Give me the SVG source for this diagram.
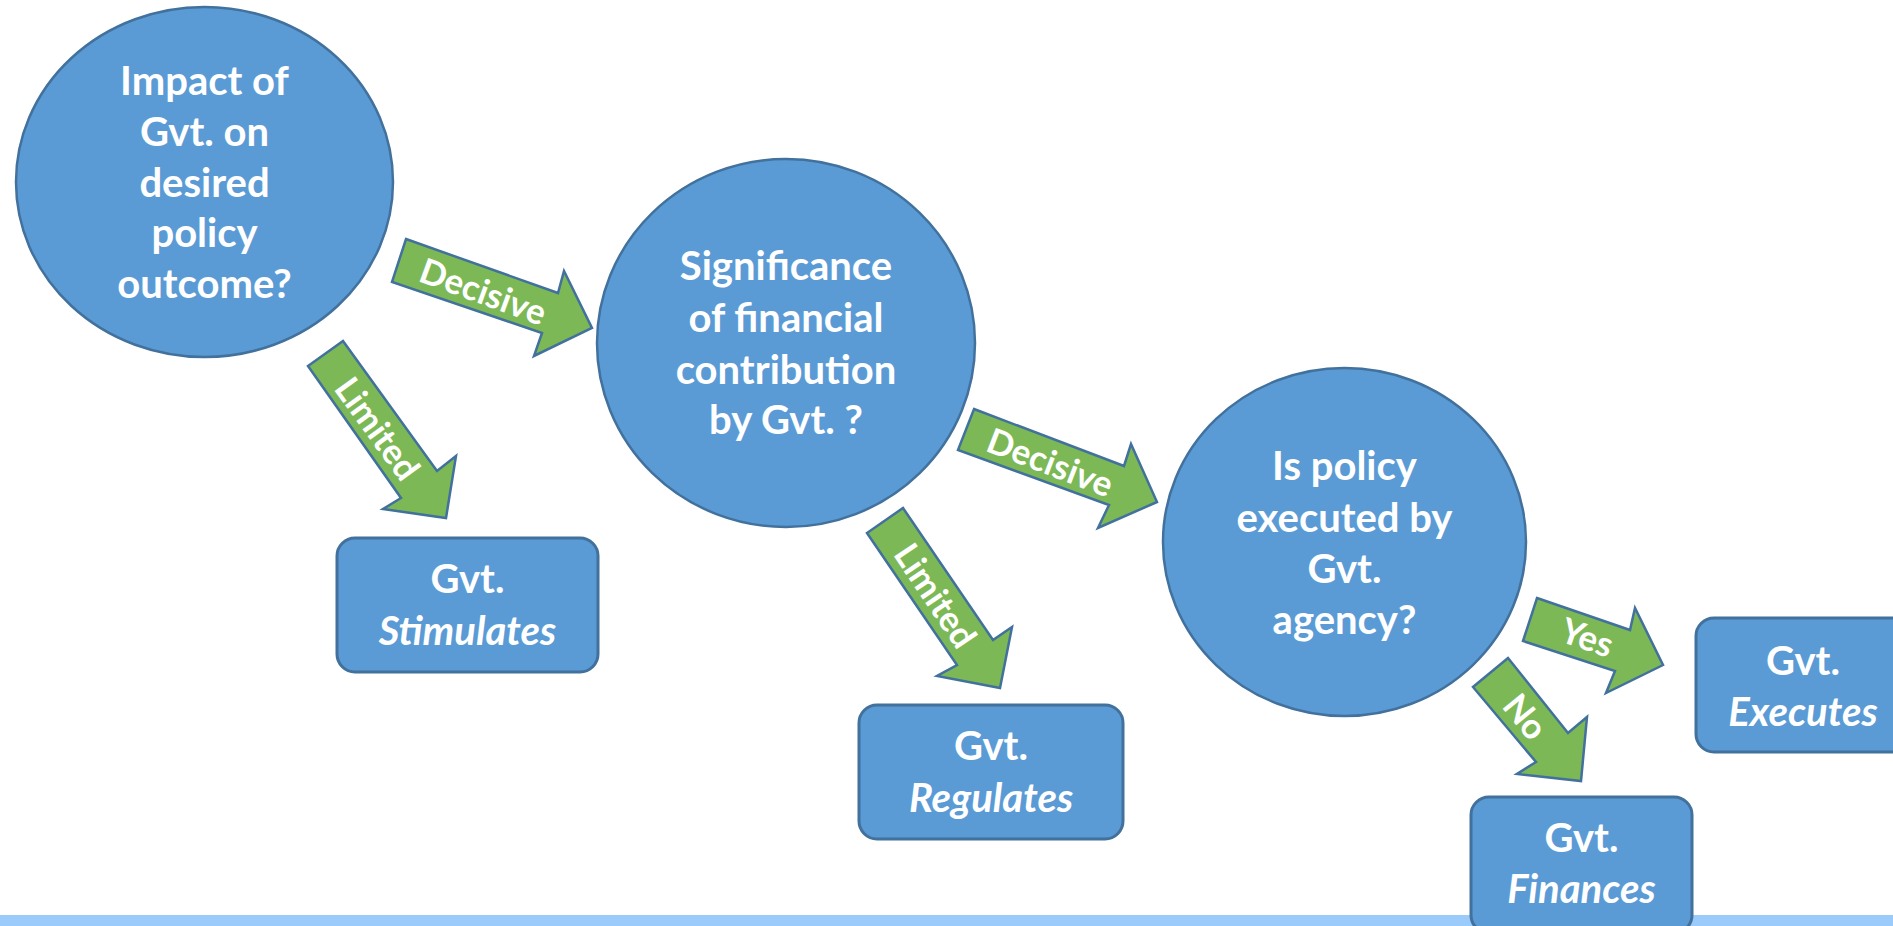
<svg xmlns="http://www.w3.org/2000/svg" width="1893" height="926" viewBox="0 0 1893 926">
<style>
.node{fill:#5B9BD5;stroke:#41719C;stroke-width:2.5}
.box{fill:#5B9BD5;stroke:#41719C;stroke-width:3}
.arr{fill:#7DB856;stroke:#41719C;stroke-width:2.5;stroke-linejoin:miter}
.t{font-family:Lato,"Liberation Sans",sans-serif;font-weight:bold;font-size:40px;fill:#FFFFFF;text-anchor:middle}
.i{font-style:italic}
.lbl{font-family:Lato,"Liberation Sans",sans-serif;font-weight:bold;font-size:35px;fill:#FFFFFF;text-anchor:middle}
</style>
<rect x="0" y="0" width="1893" height="926" fill="#FFFFFF"/>
<rect id="band" x="0" y="915" width="1893" height="11" fill="#9BCBFA"/>

<g id="connectors">
  <g id="c-decisive1">
    <polygon class="arr" points="406,239 558,293 564,271 592,328 534,356 542,333 392,282"/>
    <text class="lbl" transform="translate(483,292) rotate(20)" y="12">Decisive</text>
  </g>
  <g id="c-limited1">
    <polygon class="arr" points="343,341 437,471 456,456 446,518 383,509 401,498 308,366"/>
    <text class="lbl" transform="translate(377,429) rotate(54)" y="12">Limited</text>
  </g>
  <g id="c-decisive2">
    <polygon class="arr" points="974,409 1124,466 1131,444 1157,502 1098,528 1109,505 958,450"/>
    <text class="lbl" transform="translate(1050,463) rotate(21)" y="12">Decisive</text>
  </g>
  <g id="c-limited2">
    <polygon class="arr" points="903,508 993,640 1012,627 1000,688 937,676 957,665 867,533"/>
    <text class="lbl" transform="translate(935,596) rotate(56)" y="12">Limited</text>
  </g>
  <g id="c-yes">
    <polygon class="arr" points="1537,598 1630,630 1635,608 1663,665 1606,693 1615,671 1523,641"/>
    <text class="lbl" transform="translate(1587,638) rotate(19)" y="12">Yes</text>
  </g>
  <g id="c-no">
    <polygon class="arr" points="1508,658 1568,733 1587,717 1581,781 1517,774 1536,762 1473,687"/>
    <text class="lbl" transform="translate(1525,717) rotate(51)" y="12">No</text>
  </g>
</g>

<g id="n-impact">
  <ellipse class="node" cx="204.5" cy="182" rx="188.5" ry="175"/>
  <text class="t" x="204.5" y="95">Impact of</text>
  <text class="t" x="204.5" y="146">Gvt. on</text>
  <text class="t" x="204.5" y="197">desired</text>
  <text class="t" x="204.5" y="247">policy</text>
  <text class="t" x="204.5" y="298">outcome?</text>
</g>

<g id="n-significance">
  <ellipse class="node" cx="786" cy="343" rx="189" ry="184"/>
  <text class="t" x="786" y="280">Significance</text>
  <text class="t" x="786" y="332">of financial</text>
  <text class="t" x="786" y="384">contribution</text>
  <text class="t" x="786" y="434">by Gvt. ?</text>
</g>

<g id="n-executed">
  <ellipse class="node" cx="1344.5" cy="542" rx="181.5" ry="174"/>
  <text class="t" x="1344.5" y="480">Is policy</text>
  <text class="t" x="1344.5" y="532">executed by</text>
  <text class="t" x="1344.5" y="583">Gvt.</text>
  <text class="t" x="1344.5" y="634">agency?</text>
</g>

<g id="n-stimulates">
  <rect class="box" x="337" y="538" width="261" height="134" rx="18" ry="18"/>
  <text class="t" x="467.5" y="593">Gvt.</text>
  <text class="t i" x="467.5" y="645">Stimulates</text>
</g>

<g id="n-regulates">
  <rect class="box" x="859" y="705" width="264" height="134" rx="18" ry="18"/>
  <text class="t" x="991" y="760">Gvt.</text>
  <text class="t i" x="991" y="812">Regulates</text>
</g>

<g id="n-executes">
  <rect class="box" x="1696" y="618" width="214" height="134" rx="18" ry="18"/>
  <text class="t" x="1803" y="675">Gvt.</text>
  <text class="t i" x="1803" y="726">Executes</text>
</g>

<g id="n-finances">
  <rect class="box" x="1471" y="797" width="221" height="136" rx="18" ry="18"/>
  <text class="t" x="1581.5" y="852">Gvt.</text>
  <text class="t i" x="1581.5" y="903">Finances</text>
</g>
</svg>
